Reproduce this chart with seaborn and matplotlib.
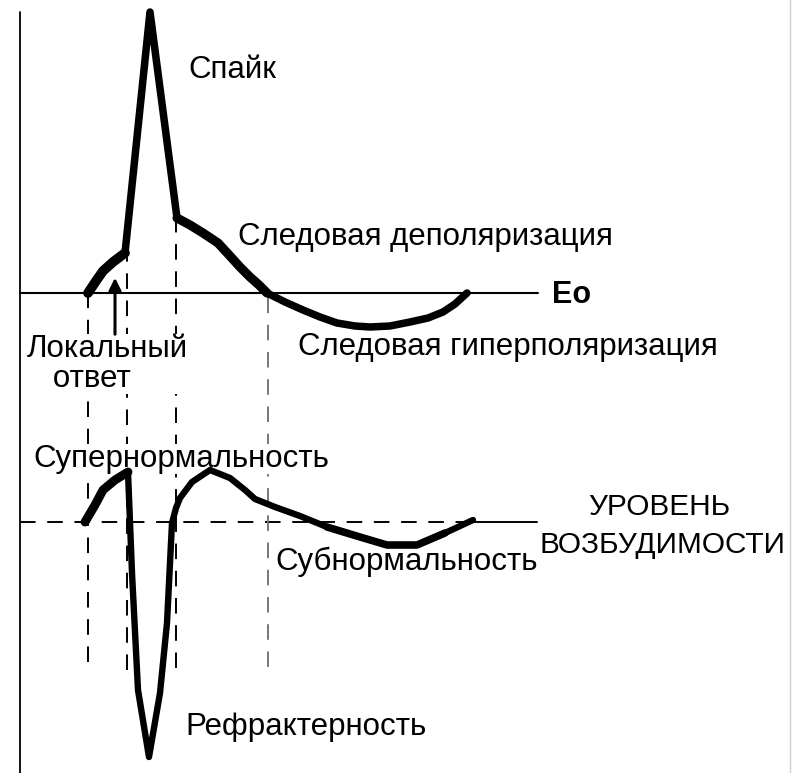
import pandas as pd
import seaborn as sns
import matplotlib.pyplot as plt

sns.set_style("white")
plt.rcParams["font.family"] = ["Liberation Sans", "DejaVu Sans"]
plt.rcParams["text.color"] = "black"

W, H = 797, 773

# action potential: time (sheet units) and height above the bottom of the sheet
ap_t = [88, 96, 103, 113, 125, 150, 177, 190, 203, 218, 230, 240, 250, 259, 267,
        285, 303, 320, 337, 355, 370, 390, 410, 428, 443, 455, 467]
ap_v = [480, 492, 502, 511, 520, 761, 555, 548, 540, 530, 517, 506, 496, 488, 480,
        471, 463, 456, 450, 447, 446, 447, 451, 455, 461, 469, 480]

# excitability trace on the same time scale
exc_t = [85, 95, 103, 115, 128, 132, 138, 149, 160, 167, 172, 176, 180, 192, 210,
         230, 245, 255, 275, 300, 327, 360, 387, 417, 445, 473]
exc_v = [251, 268, 283, 293, 301, 200, 83, 16, 80, 150, 250, 265, 275, 291, 303,
         295, 283, 274, 266, 257, 246, 236, 228, 228, 240, 253]

E0_LEVEL = 480
EXC_LEVEL = 251
AXIS_T = 20

# dashed guides: time, top, bottom
guide_t = [88, 127, 176, 268]
guide_top = [480, 518, 555, 480]
guide_bottom = [111, 103, 105, 106]
guide_color = ["black", "black", "black", "#777777"]

labels = ["Спайк", "Следовая деполяризация", "Eo", "Следовая гиперполяризация",
          "Локальный\n   ответ", "Супернормальность", "УРОВЕНЬ", "ВОЗБУДИМОСТИ",
          "Субнормальность", "Рефрактерность"]
label_x = [188, 238, 552, 298, 27, 33, 588, 540, 275, 185]
label_y = [695, 528, 470, 418, 386, 306, 258, 220, 203, 38]
label_size = [22.5, 22.5, 22, 22.5, 22.5, 22.5, 21.4, 21.4, 22.5, 22.5]

ap = pd.DataFrame({"t": ap_t, "v": ap_v})
exc = pd.DataFrame({"t": exc_t, "v": exc_v})

fig = plt.figure(figsize=(W / 100, H / 100), dpi=100)
ax = fig.add_axes([0, 0, 1, 1])
ax.set_xlim(0, W)
ax.set_ylim(0, H)
ax.axis("off")

# reference lines
ax.plot([AXIS_T, AXIS_T], [0, 761], color="black", lw=1.3)
ax.plot([AXIS_T, 538], [E0_LEVEL, E0_LEVEL], color="black", lw=1.5)
ax.plot([AXIS_T, exc_t[-1]], [EXC_LEVEL, EXC_LEVEL], color="black", lw=1.4,
        linestyle=(0, (8, 6)))
ax.plot([exc_t[-1], 537], [EXC_LEVEL, EXC_LEVEL], color="black", lw=1.4)
ax.plot([790, 790], [0, H], color="#cfcfcf", lw=1.0)

for t, top, bot, c in zip(guide_t, guide_top, guide_bottom, guide_color):
    ax.plot([t, t], [bot, top], color=c, lw=1.4, linestyle=(0, (8, 6)))

for txt, x, y, fs in zip(labels, label_x, label_y, label_size):
    bold = txt == "Eo"
    ax.text(x, y, txt, fontsize=fs, ha="left", va="baseline", linespacing=1.0,
            fontweight="bold" if bold else "normal", zorder=3,
            bbox=dict(facecolor="white", edgecolor="none", pad=0.3))

# traces
line_kw = dict(sort=False, estimator=None, color="black", ax=ax, zorder=5,
               solid_joinstyle="round", solid_capstyle="round")
sns.lineplot(data=ap, x="t", y="v", lw=5.4, **line_kw)
sns.lineplot(data=exc, x="t", y="v", lw=4.6, **line_kw)
# thicker stretches: local response, trace depolarisation, supernormal rise
sns.lineplot(data=ap.iloc[:5], x="t", y="v", lw=7.0, **line_kw)
sns.lineplot(data=ap.iloc[6:15], x="t", y="v", lw=6.6, **line_kw)
sns.lineplot(data=exc.iloc[:5], x="t", y="v", lw=6.4, **line_kw)
sns.lineplot(data=exc.iloc[20:25], x="t", y="v", lw=5.4, **line_kw)

ax.annotate("", xy=(115, 498), xytext=(115, 436),
            arrowprops=dict(arrowstyle="-|>", color="black", lw=2.2,
                            mutation_scale=18), zorder=6)

ax.set_xlim(0, W)
ax.set_ylim(0, H)
ax.set_xlabel("")
ax.set_ylabel("")
fig.savefig("out.png", dpi=100, facecolor="white")
